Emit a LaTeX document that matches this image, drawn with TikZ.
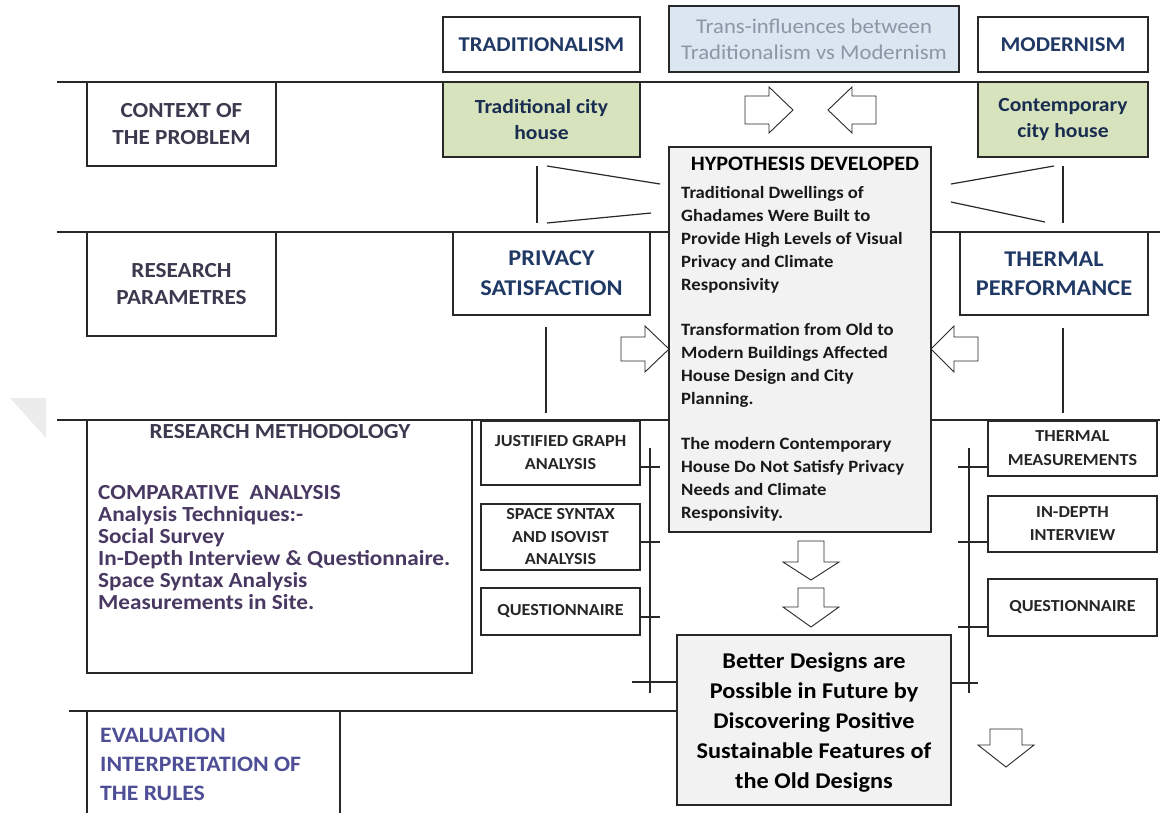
\documentclass[tikz,border=0pt]{standalone}
\usepackage{fontspec}
\setmainfont{Carlito}[FakeStretch=1.08]
\definecolor{hdr}{RGB}{62,56,78}
\definecolor{navy}{RGB}{31,56,100}
\definecolor{purp}{RGB}{72,56,98}
\definecolor{evalc}{RGB}{78,78,150}
\definecolor{transc}{RGB}{140,150,166}
\definecolor{transfill}{RGB}{220,230,241}
\definecolor{greenfill}{RGB}{215,227,189}
\definecolor{hypfill}{RGB}{242,242,242}
\definecolor{dk}{RGB}{38,38,38}
\definecolor{linec}{RGB}{40,40,40}
\definecolor{wmark}{RGB}{236,236,236}
\begin{document}
\begin{tikzpicture}[x=1pt,y=-1pt,
  box/.style={draw=linec, line width=1.2pt, fill=white, inner sep=0pt, align=center},
  ln/.style={draw=linec, line width=1.2pt},
  barrow/.style={draw=linec, line width=0.9pt, fill=white, line join=miter},
  big/.style={font=\bfseries\fontsize{21.5}{27}\selectfont},
  small/.style={font=\bfseries\fontsize{16.8}{23}\selectfont, text=dk},
]
\useasboundingbox (0,0) rectangle (1160,812);
% watermark triangle
\fill[wmark] (10,398) -- (46,398) -- (46,438) -- cycle;

% separator line anchors
\coordinate (L1a) at (57,82);
\coordinate (L2a) at (57,232);
\coordinate (L2b) at (1160,232);
\coordinate (L3a) at (57,420);
\coordinate (L3b) at (1160,420);
\coordinate (L4a) at (69,711);

% ---- boxes ----
\node[box, minimum width=197pt, minimum height=55pt, text=navy, font=\bfseries\fontsize{21}{27}\selectfont] (trad) at (541.5,44.5) {TRADITIONALISM};
\node[box, fill=transfill, minimum width=290pt, minimum height=66pt, text=transc, font=\fontsize{21}{26}\selectfont] (trans) at (814,39) {Trans-influences between\\Traditionalism vs Modernism};
\node[box, minimum width=170pt, minimum height=55pt, text=navy, font=\bfseries\fontsize{21}{27}\selectfont] (modern) at (1063,44.5) {MODERNISM};

\node[box, minimum width=189pt, minimum height=84pt, big, text=hdr] (context) at (181.5,124) {CONTEXT OF\\THE PROBLEM};
\node[box, fill=greenfill, minimum width=197pt, minimum height=75pt, text=navy!80!black, font=\bfseries\fontsize{20}{26}\selectfont] (tradhouse) at (541.5,119.5) {Traditional city\\house};
\node[box, fill=greenfill, minimum width=170pt, minimum height=75pt, text=navy!80!black, font=\bfseries\fontsize{20}{26}\selectfont] (conthouse) at (1063,119.5) {Contemporary\\city house};
\node[box, fill=hypfill, minimum width=262pt, minimum height=385pt] (hyp) at (800,339.5) {};
\node[box, minimum width=189pt, minimum height=104pt, big, text=hdr] (params) at (181.5,284) {RESEARCH\\PARAMETRES};
\node[box, minimum width=197pt, minimum height=83pt, text=navy, font=\bfseries\fontsize{22.5}{30}\selectfont] (privacy) at (551.5,273.5) {PRIVACY\\SATISFACTION};
\node[box, minimum width=188pt, minimum height=83pt, text=navy, font=\bfseries\fontsize{22.5}{29}\selectfont] (thermal) at (1054,273.5) {THERMAL\\PERFORMANCE};
\node[box, minimum width=385pt, minimum height=253pt] (method) at (279.5,546.5) {};
\node[box, minimum width=159pt, minimum height=64pt, small] (justified) at (560.5,453) {JUSTIFIED GRAPH\\ANALYSIS};
\node[box, minimum width=159pt, minimum height=66pt, small, font=\bfseries\fontsize{16.8}{22.5}\selectfont] (spacesyn) at (560.5,537) {SPACE SYNTAX\\AND ISOVIST\\ANALYSIS};
\node[box, minimum width=159pt, minimum height=47pt, small] (quest1) at (560.5,611.5) {QUESTIONNAIRE};
\node[box, minimum width=169pt, minimum height=55pt, small, font=\bfseries\fontsize{16.8}{24}\selectfont] (thermmeas) at (1072.5,448.5) {THERMAL\\MEASUREMENTS};
\node[box, minimum width=169pt, minimum height=56pt, small] (indepth) at (1072.5,524) {IN-DEPTH\\INTERVIEW};
\node[box, minimum width=169pt, minimum height=57pt, small] (quest2) at (1072.5,607.5) {QUESTIONNAIRE};
\node[box, fill=hypfill, minimum width=274pt, minimum height=170pt, text=black, font=\bfseries\fontsize{22.5}{30}\selectfont] (better) at (814,720) {};
\node[inner sep=0pt, align=center, text=black, font=\bfseries\fontsize{22.5}{30}\selectfont] (bettertext) at (814,723) {Better Designs are\\Possible in Future by\\Discovering Positive\\Sustainable Features of\\the Old Designs};
\node[box, minimum width=253pt, minimum height=119pt] (eval) at (213.5,770.5) {};

% separator lines
\draw[ln] (L1a) -- (L1a -| conthouse.west);
\draw[ln] (L2a) -- (L2a -| hyp.west);
\draw[ln] (hyp.east |- L2b) -- (L2b);
\draw[ln] (L3a) -- (L3a -| hyp.west);
\draw[ln] (hyp.east |- L3b) -- (L3b);
\draw[ln] (L4a) -- (L4a -| better.west);

% ---- texts inside plain boxes ----
\node[inner sep=0pt, anchor=mid, font=\bfseries\fontsize{20.5}{22}\selectfont, text=black] (hyphead) at (805,168.5) {HYPOTHESIS DEVELOPED};
\node[inner sep=0pt, anchor=north west, align=left, text=black!90, font=\bfseries\fontsize{17.3}{22.8}\selectfont] (hyptext) at (681,186.5)
  {Traditional Dwellings of\\Ghadames Were Built to\\Provide High Levels of Visual\\Privacy and Climate\\Responsivity\\[22.8pt]Transformation from Old to\\Modern Buildings Affected\\House Design and City\\Planning.\\[22.8pt]The modern Contemporary\\House Do Not Satisfy Privacy\\Needs and Climate\\Responsivity.};
\node[inner sep=0pt, anchor=mid, big, text=hdr] (methhead) at (280,436.5) {RESEARCH METHODOLOGY};
\node[inner sep=0pt, anchor=north west, align=left, text=purp, font=\bfseries\fontsize{21.5}{22}\selectfont] (methtext) at (98,485)
  {COMPARATIVE\ \ ANALYSIS\\Analysis Techniques:-\\Social Survey\\In-Depth Interview \& Questionnaire.\\Space Syntax Analysis\\Measurements in Site.};
\node[inner sep=0pt, anchor=north west, align=left, text=evalc, font=\bfseries\fontsize{22}{29}\selectfont] (evaltext) at (100,727.5)
  {EVALUATION\\INTERPRETATION OF\\THE RULES};

% ---- bracket connectors near hypothesis ----
\coordinate (bl1) at (537,166); \coordinate (bl2) at (537,223);
\coordinate (bl3) at (547,166); \coordinate (bl4) at (660,184);
\coordinate (bl5) at (547,223); \coordinate (bl6) at (651,213);
\draw[ln] (bl1) -- (bl2);
\draw[ln] (bl3) -- (bl4);
\draw[ln] (bl5) -- (bl6);
\coordinate (br1) at (1063,166); \coordinate (br2) at (1063,223);
\coordinate (br3) at (951,184); \coordinate (br4) at (1054,166);
\coordinate (br5) at (951,202); \coordinate (br6) at (1045,222);
\draw[ln] (br1) -- (br2);
\draw[ln] (br3) -- (br4);
\draw[ln] (br5) -- (br6);

% verticals under parameter boxes
\draw[ln] ([xshift=-5.5pt,yshift=-11pt]privacy.south) -- ++(0,86);
\draw[ln] ([xshift=9pt,yshift=-12pt]thermal.south) -- ++(0,85);

% ---- method trees ----
\coordinate (vl1) at (650,448); \coordinate (vl2) at (650,693);
\draw[ln] (vl1) -- (vl2);
\draw[ln] ([yshift=-14pt]justified.east) -- ++(19,0);
\draw[ln] ([yshift=-5pt]spacesyn.east) -- ++(19,0);
\draw[ln] ([yshift=-5.5pt]quest1.east) -- ++(19,0);
\coordinate (cl) at (632,682);
\draw[ln] (cl) -- (cl -| better.west);

\coordinate (vr1) at (969,448); \coordinate (vr2) at (969,693);
\draw[ln] (vr1) -- (vr2);
\draw[ln] ([yshift=-18.5pt]thermmeas.west) -- ++(-29,0);
\draw[ln] ([yshift=-18pt]indepth.west) -- ++(-29,0);
\draw[ln] ([yshift=-19.5pt]quest2.west) -- ++(-29,0);
\coordinate (cr) at (978,683);
\draw[ln] (better.east |- cr) -- (cr);

% ---- block arrows ----
\draw[barrow] (745,96) -- (769,96) -- (769,87) -- (793,110) -- (769,133) -- (769,124) -- (745,124) -- cycle;
\draw[barrow] (876,96) -- (852,96) -- (852,87) -- (828,110) -- (852,133) -- (852,124) -- (876,124) -- cycle;
\draw[barrow] (621,337) -- (645,337) -- (645,326) -- (669,349) -- (645,372) -- (645,361) -- (621,361) -- cycle;
\draw[barrow] (978,337) -- (954,337) -- (954,326) -- (931,349) -- (954,372) -- (954,361) -- (978,361) -- cycle;
\draw[barrow] (798,541) -- (824,541) -- (824,562) -- (839,562) -- (811,580) -- (783,562) -- (798,562) -- cycle;
\draw[barrow] (798,588) -- (824,588) -- (824,607) -- (839,607) -- (811,627) -- (783,607) -- (798,607) -- cycle;
\draw[barrow] (990,729) -- (1022,729) -- (1022,745) -- (1034,745) -- (1006,767) -- (978,745) -- (990,745) -- cycle;
\end{tikzpicture}
\end{document}
